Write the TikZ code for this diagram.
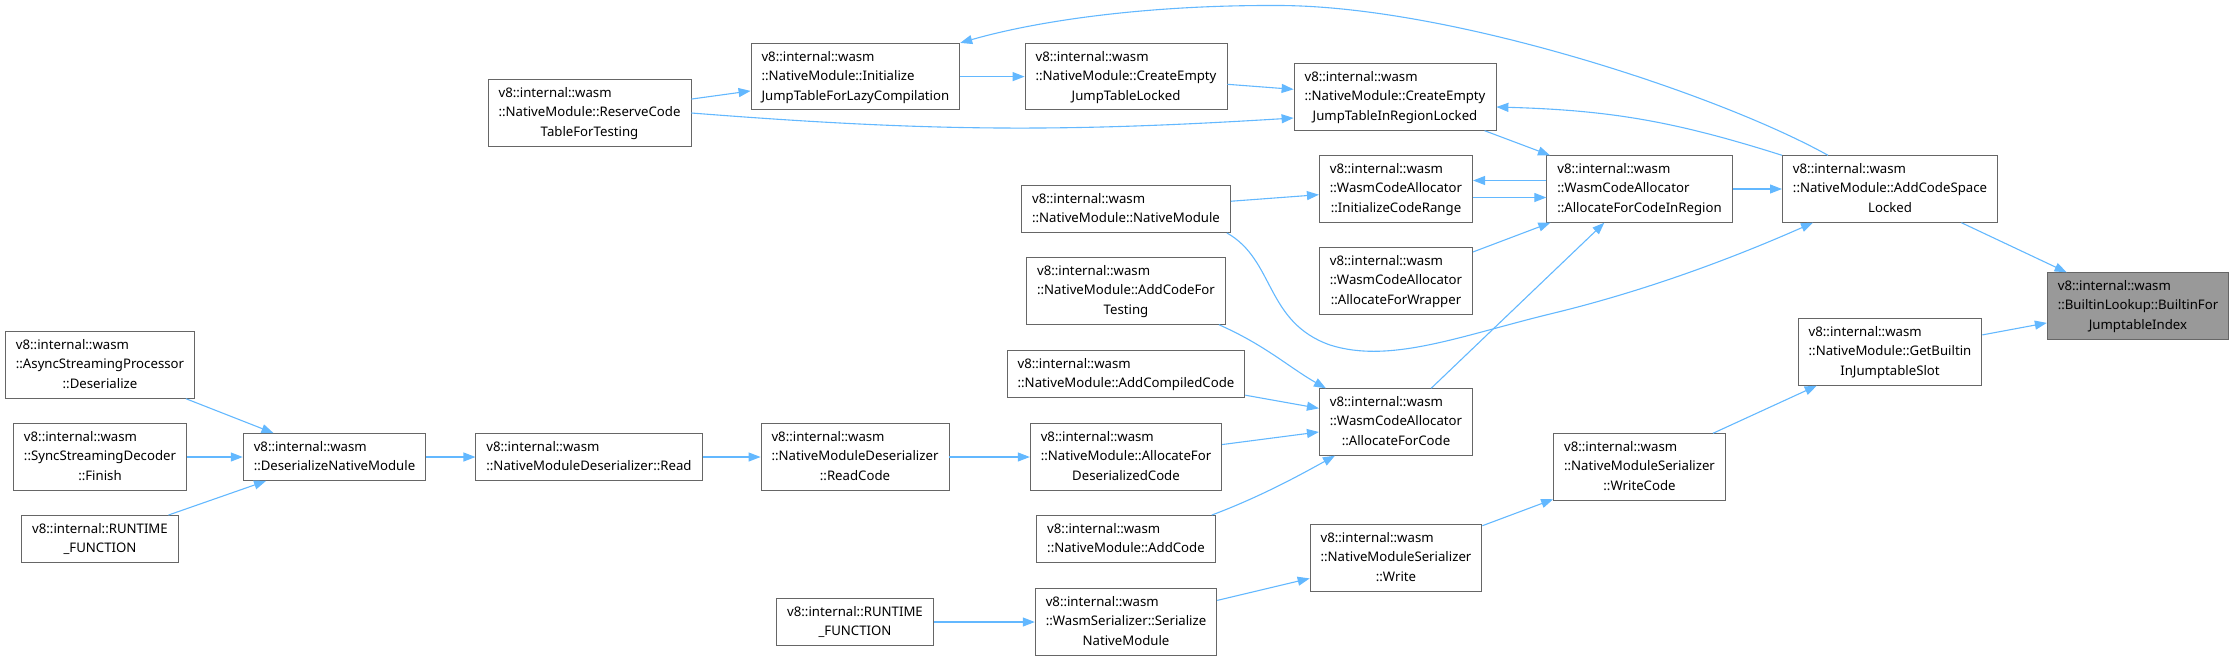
\documentclass[tikz,border=0pt]{standalone}
\usepackage{fontspec}
\setmainfont{Noto Sans}
\usetikzlibrary{arrows.meta, shapes.geometric}
\usetikzlibrary{calc}

\definecolor{edgeblue}{HTML}{63B8FF}
\definecolor{boxgray}{HTML}{666666}
\definecolor{hilite}{HTML}{999999}

\newcommand{\fnlabel}[2]{\begin{tabular}{@{}l@{}}#1\\\multicolumn{1}{@{}c@{}}{#2}\end{tabular}}

\begin{document}
\begin{tikzpicture}[
    x=1pt, y=1pt, line width=1.1pt,
    -{Triangle[length=12pt, width=9pt]}, draw=edgeblue, color=edgeblue,
    every node/.style={draw=boxgray, line width=0.9pt, fill=white, text=black, rectangle,
        inner xsep=10.5pt, inner ysep=4pt, font=\fontsize{13.2}{19.5}\selectfont}
]
\useasboundingbox (0,0) rectangle (2235,-662);

\node (reserve_code) at (589.5,-113) {\fnlabel{v8::internal::wasm\\::NativeModule::ReserveCode}{TableForTesting}};
\node (init_jump_table) at (855.4,-76.6) {\fnlabel{v8::internal::wasm\\::NativeModule::Initialize}{JumpTableForLazyCompilation}};
\node (create_empty_locked) at (1126,-76.6) {\fnlabel{v8::internal::wasm\\::NativeModule::CreateEmpty}{JumpTableLocked}};
\node (create_empty_region) at (1395,-97) {\fnlabel{v8::internal::wasm\\::NativeModule::CreateEmpty}{JumpTableInRegionLocked}};
\node (init_code_range) at (1396,-189) {\fnlabel{v8::internal::wasm\\::WasmCodeAllocator}{::InitializeCodeRange}};
\node (native_module) at (1126,-209) {\fnlabel{v8::internal::wasm}{::NativeModule::NativeModule}};
\node (alloc_wrapper) at (1396,-281) {\fnlabel{v8::internal::wasm\\::WasmCodeAllocator}{::AllocateForWrapper}};
\node (add_code_testing) at (1126,-291) {\fnlabel{v8::internal::wasm\\::NativeModule::AddCodeFor}{Testing}};
\node (add_compiled) at (1126,-374) {\fnlabel{v8::internal::wasm}{::NativeModule::AddCompiledCode}};
\node (alloc_code) at (1396,-422) {\fnlabel{v8::internal::wasm\\::WasmCodeAllocator}{::AllocateForCode}};
\node (read_code) at (855,-457) {\fnlabel{v8::internal::wasm\\::NativeModuleDeserializer}{::ReadCode}};
\node (alloc_deserialized) at (1126,-457) {\fnlabel{v8::internal::wasm\\::NativeModule::AllocateFor}{DeserializedCode}};
\node (add_code) at (1126,-539) {\fnlabel{v8::internal::wasm}{::NativeModule::AddCode}};
\node (serializer_write) at (1396,-558) {\fnlabel{v8::internal::wasm\\::NativeModuleSerializer}{::Write}};
\node (runtime_mid) at (855,-622) {\fnlabel{v8::internal::RUNTIME}{\_FUNCTION}};
\node (serialize_module) at (1126,-622) {\fnlabel{v8::internal::wasm\\::WasmSerializer::Serialize}{NativeModule}};
\node (alloc_in_region) at (1639.5,-189) {\fnlabel{v8::internal::wasm\\::WasmCodeAllocator}{::AllocateForCodeInRegion}};
\node (add_code_space) at (1890,-189) {\fnlabel{v8::internal::wasm\\::NativeModule::AddCodeSpace}{Locked}};
\node (builtin_for) [fill=hilite] at (2138,-306) {\fnlabel{v8::internal::wasm\\::BuiltinLookup::BuiltinFor}{JumptableIndex}};
\node (get_builtin) at (1890,-352) {\fnlabel{v8::internal::wasm\\::NativeModule::GetBuiltin}{InJumptableSlot}};
\node (write_code) at (1639.5,-467) {\fnlabel{v8::internal::wasm\\::NativeModuleSerializer}{::WriteCode}};
\node (async_proc) at (100,-365) {\fnlabel{v8::internal::wasm\\::AsyncStreamingProcessor}{::Deserialize}};
\node (sync_finish) at (100,-457) {\fnlabel{v8::internal::wasm\\::SyncStreamingDecoder}{::Finish}};
\node (runtime_left) at (100,-539) {\fnlabel{v8::internal::RUNTIME}{\_FUNCTION}};
\node (deserialize_native) at (334.5,-457) {\fnlabel{v8::internal::wasm}{::DeserializeNativeModule}};
\node (deserializer_read) at (589,-457) {\fnlabel{v8::internal::wasm}{::NativeModuleDeserializer::Read}};

\draw (reserve_code) -- (init_jump_table);
\draw (reserve_code.east) to[bend right=4] ([yshift=-21pt]create_empty_region.west);
\draw (init_jump_table) -- (create_empty_locked);
\draw (create_empty_locked) -- (create_empty_region);
\draw (create_empty_region) -- (alloc_in_region);
\draw ([yshift=8.5pt]alloc_in_region.west) -- ([yshift=8.5pt]init_code_range.east);
\draw ([yshift=-8.5pt]init_code_range.east) -- ([yshift=-8.5pt]alloc_in_region.west);
\draw (native_module) -- (init_code_range);
\draw ([xshift=-4pt]native_module.south east) .. controls (1275,-260) and (1265,-322) .. (1330,-345)
    .. controls (1390,-364) and (1460,-336) .. (1550,-314)
    .. controls (1650,-290) and (1740,-255) .. ([xshift=-77pt]add_code_space.south);
\draw (alloc_wrapper) -- (alloc_in_region);
\draw (alloc_code) -- (alloc_in_region);
\draw ([xshift=-7pt]add_code_testing.south east) .. controls (1265,-345) and (1290,-368) .. ([xshift=7pt]alloc_code.north west);
\draw (add_compiled) -- (alloc_code);
\draw (alloc_deserialized) -- (alloc_code);
\draw ([xshift=-4pt]add_code.north east) .. controls (1260,-497) and (1300,-475) .. ([xshift=16pt]alloc_code.south west);
\draw (alloc_in_region) -- (add_code_space);
\draw ([xshift=-62pt]add_code_space.north) .. controls (1720,-95) and (1450,-5) .. (1276,-5.5)
    .. controls (1150,-5) and (1040,-20) .. (init_jump_table.north east);
\draw (add_code_space.north west) to[bend right=8] ([yshift=-10pt]create_empty_region.east);
\draw (add_code_space) -- (builtin_for);
\draw (get_builtin) -- (builtin_for);
\draw (write_code) -- (get_builtin);
\draw (serializer_write) -- (write_code);
\draw (serialize_module) -- (serializer_write);
\draw (runtime_mid) -- (serialize_module);
\draw (async_proc) -- (deserialize_native);
\draw (sync_finish) -- (deserialize_native);
\draw (runtime_left) -- (deserialize_native);
\draw (deserialize_native) -- (deserializer_read);
\draw (deserializer_read) -- (read_code);
\draw (read_code) -- (alloc_deserialized);
\end{tikzpicture}
\end{document}
